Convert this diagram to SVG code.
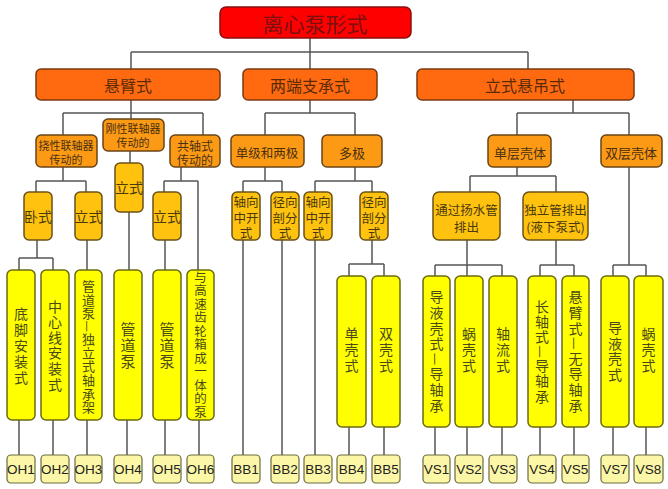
<svg xmlns="http://www.w3.org/2000/svg" width="668" height="489" viewBox="0 0 668 489">
<style>
  .cj { font-family: "Noto Sans CJK SC", "Noto Sans", sans-serif; text-anchor: middle; dominant-baseline: central; }
  .vt { font-family: "Noto Sans CJK SC", "Noto Sans", sans-serif; writing-mode: vertical-rl; text-anchor: middle; fill: #4a4a18; }
  .lat { font-family: "Liberation Sans", Arial, sans-serif; text-anchor: middle; dominant-baseline: central; fill: #222; }
  .l0 { fill: #ff0000; stroke: #8b0f0f; stroke-width: 1.5; }
  .l1 { fill: #ff6a10; stroke: #7a3a10; stroke-width: 1.5; }
  .l2 { fill: #fc9a16; stroke: #6a4416; stroke-width: 1.5; }
  .l3 { fill: #ffc20e; stroke: #6a5216; stroke-width: 1.5; }
  .l4 { fill: #ffff00; stroke: #6b6b10; stroke-width: 1.5; }
  .lb { fill: #fcf7a6; stroke: #6b6b40; stroke-width: 1.2; }
  .conn { fill: none; stroke: #555; stroke-width: 1.5; }
</style>
<rect width="668" height="489" fill="#ffffff"/>

<g id="connectors" class="conn">
  <path d="M310 38 V69 M131 52 H528 M131 52 V69 M528 52 V69"/>
  <path d="M131 100 V119 M63 113 H203 M63 113 V135 M203 113 V135"/>
  <path d="M310 100 V113 M265 113 H355 M265 113 V135 M355 113 V135"/>
  <path d="M573 100 V113 M517 113 H629 M517 113 V135 M629 113 V135"/>
  <path d="M63 167 V181 M36 181 H86 M36 181 V192 M86 181 V192"/>
  <path d="M130 151 V163"/>
  <path d="M181 167 V181 M164 181 H198 M164 181 V192 M198 181 V270"/>
  <path d="M265 167 V181 M243 181 H282 M243 181 V192 M282 181 V192"/>
  <path d="M355 167 V181 M315 181 H372 M315 181 V192 M372 181 V192"/>
  <path d="M517 167 V176 M470 176 H556 M470 176 V192 M556 176 V192"/>
  <path d="M629 167 V265 M613 265 H646 M613 265 V276 M646 265 V276"/>
  <path d="M37 240 V258 M19 258 H53 M19 258 V270 M53 258 V270"/>
  <path d="M87 240 V270 M129 212 V270 M165 240 V270"/>
  <path d="M243 240 V455 M282 240 V455 M315 240 V455"/>
  <path d="M372 240 V264 M349 264 H384 M349 264 V276 M384 264 V276"/>
  <path d="M467 240 V265 M435 265 H502 M435 265 V276 M467 265 V276 M502 265 V276"/>
  <path d="M556 240 V265 M540 265 H574 M540 265 V276 M574 265 V276"/>
  <path d="M19 420 V455 M53 420 V455 M87 420 V455 M127 420 V455 M165 420 V455 M199 420 V455"/>
  <path d="M349 427 V455 M384 427 V455 M435 427 V455 M467 427 V455 M502 427 V455 M540 427 V455 M574 427 V455 M613 427 V455 M646 427 V455"/>
</g>

<g id="n-root"><rect class="l0" x="220" y="7" width="191" height="31" rx="6"/><text class="cj" x="315" y="23" font-size="21" fill="#7a1010">离心泵形式</text></g>

<g id="n-xuanbi"><rect class="l1" x="36" y="69" width="184" height="31" rx="5"/><text class="cj" x="128" y="85" font-size="16" fill="#5a2a08">悬臂式</text></g>
<g id="n-liangduan"><rect class="l1" x="243" y="69" width="134" height="31" rx="5"/><text class="cj" x="310" y="85" font-size="16" fill="#5a2a08">两端支承式</text></g>
<g id="n-lishi"><rect class="l1" x="417" y="69" width="217" height="31" rx="5"/><text class="cj" x="525" y="85" font-size="16" fill="#5a2a08">立式悬吊式</text></g>

<g id="n-naoxing"><rect class="l2" x="36" y="135" width="61" height="32" rx="5"/><text class="cj" font-size="11" fill="#4a3010"><tspan x="66" y="144.5">挠性联轴器</tspan><tspan x="66" y="159">传动的</tspan></text></g>
<g id="n-gangxing"><rect class="l2" x="103" y="119" width="61" height="32" rx="5"/><text class="cj" font-size="11" fill="#4a3010"><tspan x="133" y="127.5">刚性联轴器</tspan><tspan x="133" y="142">传动的</tspan></text></g>
<g id="n-gongzhou"><rect class="l2" x="170" y="135" width="50" height="32" rx="5"/><text class="cj" font-size="12" fill="#4a3010"><tspan x="195" y="144.5">共轴式</tspan><tspan x="195" y="159">传动的</tspan></text></g>
<g id="n-danji"><rect class="l2" x="231" y="135" width="73" height="32" rx="5"/><text class="cj" x="267" y="152" font-size="12.5" fill="#4a3010">单级和两极</text></g>
<g id="n-duoji"><rect class="l2" x="322" y="135" width="60" height="32" rx="5"/><text class="cj" x="352" y="152" font-size="13" fill="#4a3010">多极</text></g>
<g id="n-dancengketi"><rect class="l2" x="488" y="135" width="63" height="32" rx="5"/><text class="cj" x="520" y="152" font-size="13" fill="#4a3010">单层壳体</text></g>
<g id="n-shuangcengketi"><rect class="l2" x="601" y="135" width="61" height="32" rx="5"/><text class="cj" x="631" y="152" font-size="13" fill="#4a3010">双层壳体</text></g>

<g id="n-woshi"><rect class="l3" x="24" y="192" width="28" height="48" rx="5"/><text class="cj" x="38" y="216" font-size="14" fill="#4a3a10">卧式</text></g>
<g id="n-lishi-a"><rect class="l3" x="75" y="192" width="27" height="48" rx="5"/><text class="cj" x="88.5" y="216" font-size="14" fill="#4a3a10">立式</text></g>
<g id="n-lishi-b"><rect class="l3" x="115" y="163" width="28" height="49" rx="5"/><text class="cj" x="129" y="187" font-size="14" fill="#4a3a10">立式</text></g>
<g id="n-lishi-c"><rect class="l3" x="153" y="192" width="28" height="48" rx="5"/><text class="cj" x="167" y="216" font-size="14" fill="#4a3a10">立式</text></g>
<g id="n-zx1"><rect class="l3" x="232" y="192" width="28" height="48" rx="5"/><text class="cj" font-size="12.5" fill="#4a3a10"><tspan x="246" y="201">轴向</tspan><tspan x="246" y="216.5">中开</tspan><tspan x="246" y="232">式</tspan></text></g>
<g id="n-jx1"><rect class="l3" x="271" y="192" width="28" height="48" rx="5"/><text class="cj" font-size="12.5" fill="#4a3a10"><tspan x="285" y="201">径向</tspan><tspan x="285" y="216.5">剖分</tspan><tspan x="285" y="232">式</tspan></text></g>
<g id="n-zx2"><rect class="l3" x="304" y="192" width="28" height="48" rx="5"/><text class="cj" font-size="12.5" fill="#4a3a10"><tspan x="318" y="201">轴向</tspan><tspan x="318" y="216.5">中开</tspan><tspan x="318" y="232">式</tspan></text></g>
<g id="n-jx2"><rect class="l3" x="360" y="192" width="28" height="48" rx="5"/><text class="cj" font-size="12.5" fill="#4a3a10"><tspan x="374" y="201">径向</tspan><tspan x="374" y="216.5">剖分</tspan><tspan x="374" y="232">式</tspan></text></g>
<g id="n-tongguo"><rect class="l3" x="433" y="192" width="67" height="48" rx="6"/><text class="cj" font-size="12.5" fill="#4a3a10"><tspan x="466.5" y="209">通过扬水管</tspan><tspan x="466.5" y="225.5">排出</tspan></text></g>
<g id="n-duli"><rect class="l3" x="523" y="192" width="65" height="48" rx="6"/><text class="cj" font-size="12.5" fill="#4a3a10"><tspan x="555.5" y="209">独立管排出</tspan><tspan x="555.5" y="225.5">(液下泵式)</tspan></text></g>

<g id="n-oh1"><rect class="l4" x="7" y="270" width="28" height="150" rx="5"/><text class="vt" x="21" y="347" font-size="14" letter-spacing="2">底脚安装式</text></g>
<g id="n-oh2"><rect class="l4" x="41" y="270" width="28" height="150" rx="5"/><text class="vt" x="55" y="346" font-size="14" letter-spacing="1.6">中心线安装式</text></g>
<g id="n-oh3"><rect class="l4" x="75" y="270" width="27" height="150" rx="5"/><text class="vt" x="88.5" y="347" font-size="13" letter-spacing="0.6">管道泵—独立式轴承架</text></g>
<g id="n-oh4"><rect class="l4" x="114" y="270" width="28" height="150" rx="5"/><text class="vt" x="128" y="346" font-size="15" letter-spacing="1">管道泵</text></g>
<g id="n-oh5"><rect class="l4" x="153" y="270" width="28" height="150" rx="5"/><text class="vt" x="167" y="346" font-size="15" letter-spacing="1">管道泵</text></g>
<g id="n-oh6"><rect class="l4" x="187" y="270" width="27" height="150" rx="5"/><text class="vt" x="200.5" y="345" font-size="12.5" letter-spacing="1">与高速齿轮箱成一体的泵</text></g>

<g id="n-bb4"><rect class="l4" x="337" y="276" width="29" height="151" rx="5"/><text class="vt" x="351.5" y="351" font-size="14" letter-spacing="2">单壳式</text></g>
<g id="n-bb5"><rect class="l4" x="372" y="276" width="28" height="151" rx="5"/><text class="vt" x="386" y="351" font-size="14" letter-spacing="2">双壳式</text></g>

<g id="n-vs1"><rect class="l4" x="423" y="276" width="27" height="151" rx="5"/><text class="vt" x="436.5" y="352" font-size="14" letter-spacing="1.7">导液壳式—导轴承</text></g>
<g id="n-vs2"><rect class="l4" x="455" y="276" width="28" height="151" rx="5"/><text class="vt" x="469" y="351" font-size="14" letter-spacing="2">蜗壳式</text></g>
<g id="n-vs3"><rect class="l4" x="489" y="276" width="28" height="151" rx="5"/><text class="vt" x="503" y="351" font-size="14" letter-spacing="2">轴流式</text></g>
<g id="n-vs4"><rect class="l4" x="528" y="276" width="28" height="151" rx="5"/><text class="vt" x="542" y="352" font-size="14" letter-spacing="1.2">长轴式—导轴承</text></g>
<g id="n-vs5"><rect class="l4" x="562" y="276" width="27" height="151" rx="5"/><text class="vt" x="575.5" y="352" font-size="14" letter-spacing="1.7">悬臂式—无导轴承</text></g>
<g id="n-vs7"><rect class="l4" x="601" y="276" width="28" height="151" rx="5"/><text class="vt" x="615" y="352" font-size="14" letter-spacing="1.7">导液壳式</text></g>
<g id="n-vs8"><rect class="l4" x="634" y="276" width="29" height="151" rx="5"/><text class="vt" x="648.5" y="351" font-size="14" letter-spacing="2">蜗壳式</text></g>

<g id="lbl-oh1"><rect class="lb" x="7" y="455" width="28" height="28" rx="4"/><text class="lat" x="21" y="469" font-size="13.5">OH1</text></g>
<g id="lbl-oh2"><rect class="lb" x="41" y="455" width="28" height="28" rx="4"/><text class="lat" x="55" y="469" font-size="13.5">OH2</text></g>
<g id="lbl-oh3"><rect class="lb" x="75" y="455" width="27" height="28" rx="4"/><text class="lat" x="88.5" y="469" font-size="13.5">OH3</text></g>
<g id="lbl-oh4"><rect class="lb" x="114" y="455" width="28" height="28" rx="4"/><text class="lat" x="128" y="469" font-size="13.5">OH4</text></g>
<g id="lbl-oh5"><rect class="lb" x="153" y="455" width="28" height="28" rx="4"/><text class="lat" x="167" y="469" font-size="13.5">OH5</text></g>
<g id="lbl-oh6"><rect class="lb" x="187" y="455" width="27" height="28" rx="4"/><text class="lat" x="200.5" y="469" font-size="13.5">OH6</text></g>
<g id="lbl-bb1"><rect class="lb" x="232" y="455" width="28" height="28" rx="4"/><text class="lat" x="246" y="469" font-size="13.5">BB1</text></g>
<g id="lbl-bb2"><rect class="lb" x="271" y="455" width="28" height="28" rx="4"/><text class="lat" x="285" y="469" font-size="13.5">BB2</text></g>
<g id="lbl-bb3"><rect class="lb" x="304" y="455" width="28" height="28" rx="4"/><text class="lat" x="318" y="469" font-size="13.5">BB3</text></g>
<g id="lbl-bb4"><rect class="lb" x="337" y="455" width="29" height="28" rx="4"/><text class="lat" x="351.5" y="469" font-size="13.5">BB4</text></g>
<g id="lbl-bb5"><rect class="lb" x="372" y="455" width="28" height="28" rx="4"/><text class="lat" x="386" y="469" font-size="13.5">BB5</text></g>
<g id="lbl-vs1"><rect class="lb" x="423" y="455" width="27" height="28" rx="4"/><text class="lat" x="436.5" y="469" font-size="13.5">VS1</text></g>
<g id="lbl-vs2"><rect class="lb" x="455" y="455" width="28" height="28" rx="4"/><text class="lat" x="469" y="469" font-size="13.5">VS2</text></g>
<g id="lbl-vs3"><rect class="lb" x="489" y="455" width="28" height="28" rx="4"/><text class="lat" x="503" y="469" font-size="13.5">VS3</text></g>
<g id="lbl-vs4"><rect class="lb" x="528" y="455" width="28" height="28" rx="4"/><text class="lat" x="542" y="469" font-size="13.5">VS4</text></g>
<g id="lbl-vs5"><rect class="lb" x="562" y="455" width="27" height="28" rx="4"/><text class="lat" x="575.5" y="469" font-size="13.5">VS5</text></g>
<g id="lbl-vs7"><rect class="lb" x="601" y="455" width="28" height="28" rx="4"/><text class="lat" x="615" y="469" font-size="13.5">VS7</text></g>
<g id="lbl-vs8"><rect class="lb" x="634" y="455" width="29" height="28" rx="4"/><text class="lat" x="648.5" y="469" font-size="13.5">VS8</text></g>
</svg>
